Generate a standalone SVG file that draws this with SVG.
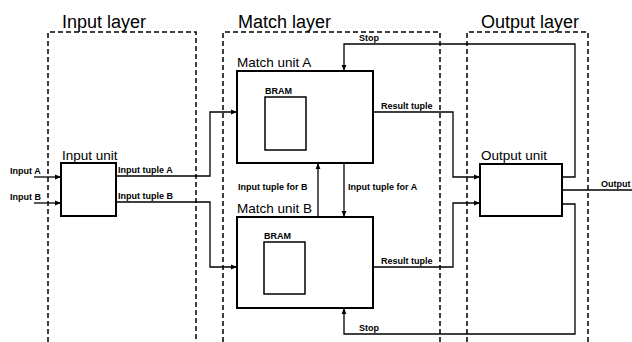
<svg xmlns="http://www.w3.org/2000/svg" width="632" height="342" viewBox="0 0 632 342">
<style>
.layer{fill:none;stroke:#000;stroke-width:1.5;stroke-dasharray:5,3}
.box{fill:#fff;stroke:#000;stroke-width:2}
.bram{fill:#fff;stroke:#000;stroke-width:1.5}
.wire{fill:none;stroke:#000;stroke-width:1.3}
.title{font-family:"Liberation Sans",Arial,sans-serif;font-size:18px;fill:#000}
.unit{font-family:"Liberation Sans",Arial,sans-serif;font-size:13.5px;fill:#000}
.lbl{font-family:"Liberation Sans",Arial,sans-serif;font-size:9px;font-weight:bold;fill:#000}
</style>
<defs>
<marker id="ah" viewBox="0 0 10 10" refX="10" refY="5" markerWidth="6" markerHeight="6" orient="auto" markerUnits="userSpaceOnUse">
<path d="M0,1 L10,5 L0,9 z" fill="#000"/>
</marker>
</defs>
<rect width="632" height="342" fill="#fff"/>
<g id="input-layer">
<path class="layer" d="M48,342 V32 H196 V342"/>
<text class="title" x="62" y="28">Input layer</text>
</g>
<g id="match-layer">
<path class="layer" d="M223,342 V32 H440 V342"/>
<text class="title" x="238" y="28">Match layer</text>
</g>
<g id="output-layer">
<path class="layer" d="M467,342 V32 H588 V342"/>
<text class="title" x="481" y="28">Output layer</text>
</g>
<g id="connectors">
<path class="wire" d="M34,177 H61" marker-end="url(#ah)"/>
<path class="wire" d="M34,203 H61" marker-end="url(#ah)"/>
<path class="wire" d="M116,176 H210 V112 H237" marker-end="url(#ah)"/>
<path class="wire" d="M116,202 H210 V267 H237" marker-end="url(#ah)"/>
<path class="wire" d="M318,217 V163" marker-end="url(#ah)"/>
<path class="wire" d="M344,163 V217" marker-end="url(#ah)"/>
<path class="wire" d="M373,112 H453 V177 H480" marker-end="url(#ah)"/>
<path class="wire" d="M373,267 H453 V203 H480" marker-end="url(#ah)"/>
<path class="wire" d="M562,177 H575 V44 H344 V71" marker-end="url(#ah)"/>
<path class="wire" d="M562,204 H575 V334 H344 V308" marker-end="url(#ah)"/>
<path class="wire" d="M562,190 H632"/>
<text class="lbl" x="10" y="174">Input A</text>
<text class="lbl" x="10" y="200">Input B</text>
<text class="lbl" x="118" y="173">Input tuple A</text>
<text class="lbl" x="118" y="199">Input tuple B</text>
<text class="lbl" x="238" y="190">Input tuple for B</text>
<text class="lbl" x="348" y="190">Input tuple for A</text>
<text class="lbl" x="381" y="109">Result tuple</text>
<text class="lbl" x="381" y="264">Result tuple</text>
<text class="lbl" x="359" y="41">Stop</text>
<text class="lbl" x="359" y="331">Stop</text>
<text class="lbl" x="601" y="187">Output</text>
</g>
<g id="input-unit">
<rect class="box" x="61" y="163" width="55" height="53"/>
<text class="unit" x="62" y="160">Input unit</text>
</g>
<g id="match-unit-a">
<rect class="box" x="237" y="71" width="136" height="92"/>
<text class="unit" x="237" y="67">Match unit A</text>
<rect class="bram" x="265" y="97" width="41" height="53"/>
<text class="lbl" x="265" y="94">BRAM</text>
</g>
<g id="match-unit-b">
<rect class="box" x="237" y="217" width="136" height="91"/>
<text class="unit" x="237" y="213">Match unit B</text>
<rect class="bram" x="264" y="242" width="41" height="52"/>
<text class="lbl" x="264" y="239">BRAM</text>
</g>
<g id="output-unit">
<rect class="box" x="480" y="164" width="82" height="52"/>
<text class="unit" x="481" y="160">Output unit</text>
</g>
</svg>
